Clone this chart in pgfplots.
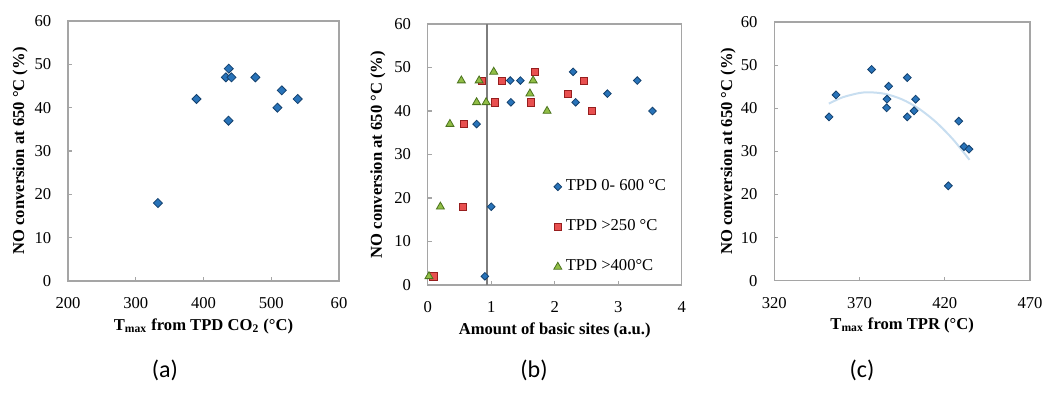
\documentclass[border=0pt]{standalone}
\usepackage{fontspec}
\setmainfont{Liberation Serif}
\newfontfamily\capfont{Carlito}
\usepackage{pgfplots}
\pgfplotsset{compat=1.18}
\definecolor{axgray}{RGB}{165,165,165}
\definecolor{vlgray}{RGB}{125,125,125}
\definecolor{bfill}{RGB}{40,115,185}
\definecolor{bdraw}{RGB}{20,65,110}
\definecolor{rfill}{RGB}{232,80,80}
\definecolor{rdraw}{RGB}{150,30,30}
\definecolor{gfill}{RGB}{145,190,70}
\definecolor{gdraw}{RGB}{75,115,30}
\definecolor{trend}{RGB}{200,222,240}
\newcommand\tickfont{\fontsize{8.3}{10}\selectfont}
\newcommand\labfont{\bfseries\fontsize{8.3}{10}\selectfont}
\pgfplotsset{
  myax/.style={
    scale only axis,
    clip=false,
    /pgf/number format/assume math mode=true,
    axis line style={axgray, line width=0.6pt},
    every tick/.style={axgray, line width=0.6pt},
    tick align=inside,
    major tick length=2pt,
    xtick pos=bottom, ytick pos=left,
    ymin=0, ymax=60, ytick={0,10,...,60},
    tick label style={font=\tickfont, inner sep=0pt},
    yticklabel style={xshift=-8.2pt},
    xticklabel style={yshift=-8pt},
    label style={font=\labfont},
    xlabel style={at={(axis description cs:0.5,0)}, anchor=center, yshift=-22.5pt},
  },
  bmark/.style={only marks, mark=square*, mark options={rotate=45, fill=bfill, draw=bdraw, line width=0.4pt}},
}
\begin{document}
\begin{tikzpicture}
\path[use as bounding box] (0,0) rectangle (521pt,-203.5pt);
% (a)
\begin{axis}[myax, at={(34pt,-140.5pt)}, anchor=south west,
  width=135.5pt, height=130pt,
  xmin=200, xmax=600, xtick={200,300,400,500,600},
  xticklabels={200,300,400,500,60},
  xlabel={T\textsubscript{max} from TPD CO\textsubscript{2} (°C)},
  ylabel={NO conversion at 650 °C (\%)},
  ylabel style={at={(axis description cs:-0.177,0.5)}, anchor=center},
]
\addplot[bmark, mark size=1.6pt] coordinates {
(332.7,18) (389.7,42) (433,47) (437.3,49) (441.3,47) (436.9,37)
(476.6,47) (515.5,44) (509.1,40) (539,42)};
\end{axis}
% (b)
\begin{axis}[myax, at={(213.85pt,-142.5pt)}, anchor=south west,
  width=127pt, height=130.5pt,
  xmin=0, xmax=4, xtick={0,1,2,3,4},
  xlabel={Amount of basic sites (a.u.)},
  ylabel={NO conversion at 650 °C (\%)},
  ylabel style={at={(axis description cs:-0.196,0.5)}, anchor=center},
  legend style={draw=none, fill=none, inner sep=0pt, font=\tickfont,
    at={(0.495,0.42)}, anchor=north west, row sep=9pt},
  legend cell align=left,
  legend image code/.code={\draw[#1, mark repeat=1] plot coordinates {(0pt,0pt)};},
]
\addplot[vlgray, line width=0.6pt, forget plot] coordinates {(0.934,0) (0.934,60)};
\addplot[bmark, mark size=1.35pt] coordinates {
(0.77,37) (0.90,2) (1.00,18) (1.30,47) (1.31,42) (1.46,47)
(2.29,49) (2.33,42) (2.83,44) (3.30,47) (3.54,40)};
\addlegendentry{TPD 0- 600 °C}
\addplot[only marks, mark=square*, mark size=1.8pt, mark options={fill=rfill, draw=rdraw, line width=0.4pt}] coordinates {
(0.09,2) (0.55,18) (0.57,37) (0.85,47) (1.17,47) (1.06,42)
(1.69,49) (1.63,42) (2.21,44) (2.46,47) (2.59,40)};
\addlegendentry{TPD >250 °C}
\addplot[only marks, mark=triangle*, mark size=2.3pt, mark options={fill=gfill, draw=gdraw, line width=0.4pt}] coordinates {
(0.02,2) (0.20,18) (0.35,37) (0.53,47) (0.81,47) (1.04,49)
(0.77,42) (0.92,42) (1.61,44) (1.66,47) (1.88,40)};
\addlegendentry{TPD >400°C}
\end{axis}
% (c)
\begin{axis}[myax, at={(387.15pt,-140.35pt)}, anchor=south west,
  width=127.85pt, height=129.35pt,
  xmin=320, xmax=470, xtick={320,370,420,470},
  xlabel={T\textsubscript{max} from TPR (°C)},
  ylabel={NO conversion at 650 °C (\%)},
  ylabel style={at={(axis description cs:-0.181,0.5)}, anchor=center},
]
\addplot[trend, line width=1pt, smooth] coordinates {
(352,41.06) (360,42.53) (370,43.54) (376,43.7) (385,43.33) (395,42.05)
(405,39.85) (415,36.73) (425,32.70) (434.5,28.03)};
\addplot[bmark, mark size=1.4pt] coordinates {
(352.1,38.0) (356.2,43.1) (377.1,49.0) (387.1,45.1) (386.1,42.1) (385.9,40.1)
(398.0,47.1) (398.0,38.0) (402.9,42.1) (402.0,39.4) (428.2,37.0) (422.1,22.0)
(431.3,31.1) (434.2,30.5)};
\end{axis}
\node[font=\capfont\fontsize{12}{14}\selectfont] at (82.5pt,-185pt) {(a)};
\node[font=\capfont\fontsize{12}{14}\selectfont] at (267pt,-185pt) {(b)};
\node[font=\capfont\fontsize{12}{14}\selectfont] at (431pt,-185pt) {(c)};
\end{tikzpicture}
\end{document}
